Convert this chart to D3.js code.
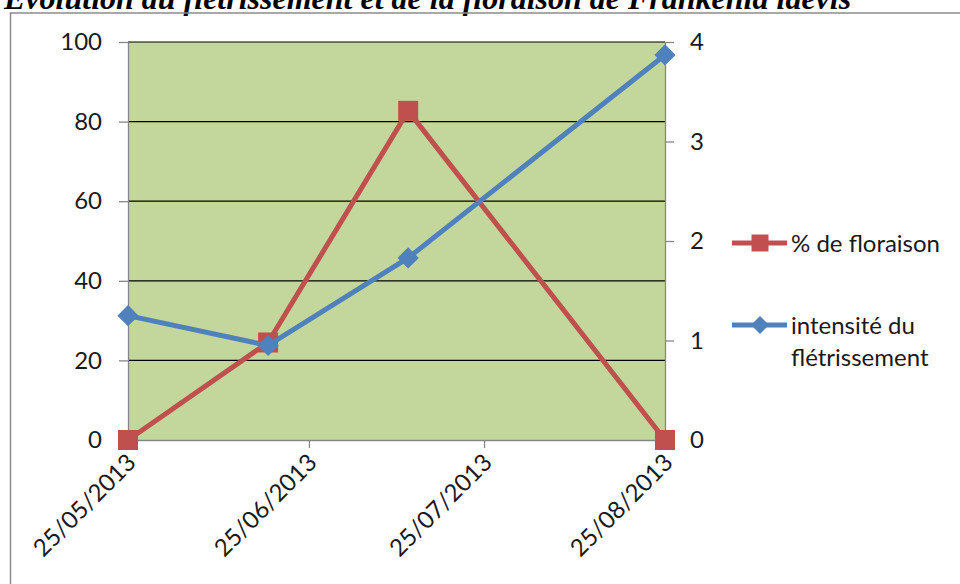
<!DOCTYPE html>
<html>
<head>
<meta charset="utf-8">
<script src="https://cdn.jsdelivr.net/npm/d3@7"></script>
<style>
  body { margin: 0; background: #fff; }
  svg { display: block; }
  .axis text { font-family: Lato, sans-serif; font-size: 24px; fill: #1a1a1a; }
  .axis path, .axis line { stroke: #868686; stroke-width: 1.3; }
  .legend text { font-family: Lato, sans-serif; font-size: 24px; fill: #1a1a1a; }
</style>
</head>
<body>
<div id="chart"></div>
<script>
// DONNEES
const dates = ["25/05/2013", "18/06/2013", "12/07/2013", "25/08/2013"];
const floraison = [0, 24.5, 82.7, 0];          // % de floraison (axe gauche)
const fletrissement = [1.25, 0.95, 1.83, 3.87]; // intensité (axe droit)
const leftTicks = [0, 20, 40, 60, 80, 100];
const rightTicks = [0, 1, 2, 3, 4];
const dateTicks = ["25/05/2013", "25/06/2013", "25/07/2013", "25/08/2013"];
const seriesNames = ["% de floraison", "intensité du", "flétrissement"];
const title = "Evolution du flétrissement et de la floraison de Frankenia laevis";

// CONFIGURATION
const width = 960;
const height = 584;
const plot = { left: 128, right: 665, top: 42, bottom: 440 };

const COLORS = {
    red: '#c0504d',
    blue: '#4f81bd',
    plotBg: '#c3d69b',
    grid: '#000000',
    frame: '#8c8c8c'
};

const parse = d3.timeParse("%d/%m/%Y");
const fmt = d3.timeFormat("%d/%m/%Y");

const svg = d3.select("#chart").append("svg")
    .attr("width", width)
    .attr("height", height);

// SCALES
const x = d3.scaleTime()
    .domain([parse(dateTicks[0]), parse(dateTicks[dateTicks.length - 1])])
    .range([plot.left, plot.right]);
const yLeft = d3.scaleLinear().domain([0, 100]).range([plot.bottom, plot.top]);
const yRight = d3.scaleLinear().domain([0, 4]).range([plot.bottom, plot.top]);

// Titre (coupé en haut comme sur l'original)
svg.append("text")
    .attr("x", 4)
    .attr("y", 9)
    .style("font-family", "'Liberation Serif', 'Times New Roman', serif")
    .style("font-weight", "bold")
    .style("font-style", "italic")
    .style("font-size", "32px")
    .text(title);

// Cadre
svg.append("path")
    .attr("d", `M10.5,${height} V13 H${width}`)
    .attr("fill", "none")
    .attr("stroke", COLORS.frame)
    .attr("stroke-width", 1.5);

// Fond zone de tracé
svg.append("rect")
    .attr("x", x.range()[0])
    .attr("y", yLeft(100))
    .attr("width", x.range()[1] - x.range()[0])
    .attr("height", yLeft(0) - yLeft(100))
    .attr("fill", COLORS.plotBg);

// Quadrillage
svg.append("g").selectAll("line")
    .data(leftTicks.filter(d => d > 0))
    .join("line")
    .attr("x1", x.range()[0])
    .attr("x2", x.range()[1])
    .attr("y1", d => yLeft(d))
    .attr("y2", d => yLeft(d))
    .attr("stroke", COLORS.grid)
    .attr("stroke-width", 1.2);

// AXES
svg.append("g")
    .attr("class", "axis")
    .attr("transform", `translate(${plot.left},0)`)
    .call(d3.axisLeft(yLeft).tickValues(leftTicks).tickSize(9).tickSizeOuter(0).tickPadding(17));

svg.append("g")
    .attr("class", "axis")
    .attr("transform", `translate(${plot.right},0)`)
    .call(d3.axisRight(yRight).tickValues(rightTicks).tickFormat(d3.format("d"))
        .tickSize(9).tickSizeOuter(0).tickPadding(16));

const xAxis = svg.append("g")
    .attr("class", "axis")
    .attr("transform", `translate(0,${plot.bottom})`)
    .call(d3.axisBottom(x).tickValues(dateTicks.map(parse)).tickFormat(fmt).tickSize(8).tickSizeOuter(0));

xAxis.selectAll("text")
    .attr("x", 0)
    .attr("y", 0)
    .attr("dy", "0.35em")
    .attr("text-anchor", "end")
    .attr("transform", "translate(3,18) rotate(-45)");

// SERIES
const redData = dates.map((d, i) => ({ date: parse(d), v: floraison[i] }));
const blueData = dates.map((d, i) => ({ date: parse(d), v: fletrissement[i] }));

const lineLeft = d3.line().x(d => x(d.date)).y(d => yLeft(d.v));
const lineRight = d3.line().x(d => x(d.date)).y(d => yRight(d.v));

const square = d3.symbol().type(d3.symbolSquare).size(400);
const diamond = d3.symbol().type(d3.symbolSquare).size(225);

// % de floraison
svg.append("path")
    .datum(redData)
    .attr("d", lineLeft)
    .attr("fill", "none")
    .attr("stroke", COLORS.red)
    .attr("stroke-width", 5)
    .attr("stroke-linejoin", "round");

svg.append("g").selectAll("path")
    .data(redData)
    .join("path")
    .attr("d", square)
    .attr("transform", d => `translate(${x(d.date)},${yLeft(d.v)})`)
    .attr("fill", COLORS.red);

// intensité du flétrissement (axe secondaire, dessiné au-dessus)
svg.append("path")
    .datum(blueData)
    .attr("d", lineRight)
    .attr("fill", "none")
    .attr("stroke", COLORS.blue)
    .attr("stroke-width", 5)
    .attr("stroke-linejoin", "round");

svg.append("g").selectAll("path")
    .data(blueData)
    .join("path")
    .attr("d", diamond)
    .attr("transform", d => `translate(${x(d.date)},${yRight(d.v)}) rotate(45)`)
    .attr("fill", COLORS.blue);

// LEGENDE
const legend = svg.append("g").attr("class", "legend");

const leg1 = legend.append("g").attr("transform", "translate(732,243)");
leg1.append("line").attr("x1", 0).attr("x2", 55).attr("stroke", COLORS.red).attr("stroke-width", 5);
leg1.append("path").attr("d", d3.symbol().type(d3.symbolSquare).size(289)).attr("transform", "translate(28,0)").attr("fill", COLORS.red);
leg1.append("text").attr("x", 59).attr("y", 9).text(seriesNames[0]);

const leg2 = legend.append("g").attr("transform", "translate(732,325)");
leg2.append("line").attr("x1", 0).attr("x2", 55).attr("stroke", COLORS.blue).attr("stroke-width", 5);
leg2.append("path").attr("d", d3.symbol().type(d3.symbolSquare).size(160)).attr("transform", "translate(28,0) rotate(45)").attr("fill", COLORS.blue);
leg2.append("text").attr("x", 59).attr("y", 9).text(seriesNames[1]);
leg2.append("text").attr("x", 59).attr("y", 41).text(seriesNames[2]);
</script>
</body>
</html>
